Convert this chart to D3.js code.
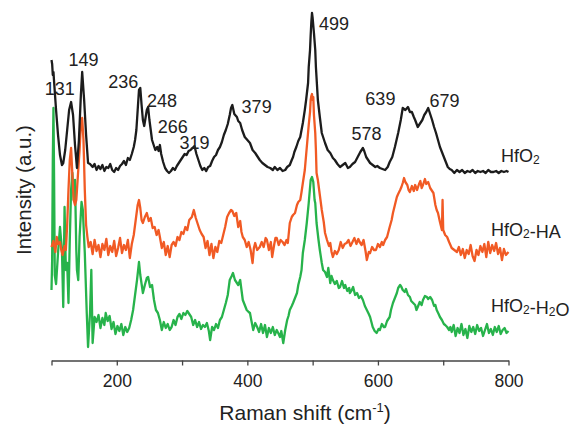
<!DOCTYPE html>
<html>
<head>
<meta charset="utf-8">
<script src="https://cdn.jsdelivr.net/npm/d3@7"></script>
<style>
body { margin: 0; background: #fff; }
text { font-family: Arial, "Liberation Sans", Helvetica, sans-serif; fill: #222; }
</style>
</head>
<body>
<div id="chart"></div>
<script>
// Raman shift (cm-1), intensity (a.u., offset per trace)
var hfo2 = [[100,30.0],[101,29.6],[102,28.5],[103,28.8],[104,27.8],[107,25.0],[110,22.5],[113,20.5],[116,19.5],[118,19.7],[121,21.0],[124,23.0],[127,25.0],[130,25.8],[133,24.5],[136,21.5],[139,19.2],[142,22.0],[145,26.5],[147,28.8],[150,26.0],[153,22.5],[156,19.7],[159,19.6],[163,19.3],[166,19.6],[169,19.0],[172,19.4],[175,19.1],[178,19.5],[181,18.9],[184,19.3],[187,19.2],[190,19.6],[193,19.0],[196,18.8],[199,19.2],[202,19.0],[205,19.4],[208,19.6],[211,19.9],[214,19.5],[217,20.2],[220,20.0],[223,20.6],[226,21.3],[228,22.0],[230,23.0],[232,25.0],[234,27.0],[236,27.2],[238,25.5],[240,24.0],[242,23.4],[244,24.2],[246,25.0],[248,25.3],[250,24.0],[252,23.0],[254,22.0],[256,21.6],[259,21.0],[262,21.3],[264,20.9],[266,21.5],[268,20.6],[271,19.8],[274,19.2],[277,18.9],[280,18.7],[283,18.9],[286,19.2],[289,19.0],[292,19.4],[295,19.7],[298,20.0],[301,20.3],[304,20.6],[307,20.5],[310,20.9],[313,21.0],[316,21.2],[319,21.4],[322,20.6],[325,20.0],[328,19.4],[331,19.0],[334,19.2],[337,18.9],[340,19.3],[343,19.4],[346,19.9],[349,20.3],[352,20.5],[355,21.0],[358,21.3],[361,21.8],[364,22.5],[367,23.0],[370,23.6],[373,24.5],[375,25.2],[377,25.5],[380,24.6],[384,24.3],[386,23.9],[389,23.7],[392,23.0],[396,22.3],[400,22.0],[404,21.7],[408,21.0],[412,20.7],[416,20.3],[419,20.0],[423,19.7],[427,19.5],[431,19.3],[435,19.2],[439,19.0],[442,19.3],[446,19.0],[450,19.2],[454,18.9],[458,19.0],[461,19.3],[465,19.5],[468,20.0],[470,20.3],[472,20.8],[475,21.3],[478,21.9],[481,22.3],[483,23.0],[485,23.7],[488,25.0],[490,26.0],[493,27.7],[494,29.3],[496,31.0],[497,32.5],[498,33.8],[499,34.7],[500,34.2],[502,32.7],[504,31.0],[505,29.3],[508,26.0],[511,24.3],[514,22.7],[519,21.7],[523,21.0],[527,20.7],[531,20.2],[534,20.0],[538,19.6],[542,19.3],[546,19.5],[550,19.7],[554,19.2],[557,19.3],[561,19.6],[565,19.8],[569,20.3],[573,20.8],[577,21.2],[579,20.9],[582,20.3],[585,20.0],[588,19.7],[592,19.5],[596,19.3],[599,19.4],[603,19.2],[607,19.1],[611,19.0],[615,19.3],[618,19.8],[622,20.3],[626,21.3],[631,22.7],[635,24.0],[638,25.2],[642,25.0],[646,25.3],[649,24.8],[652,24.8],[655,24.3],[657,24.0],[661,23.3],[664,23.6],[668,24.0],[671,24.5],[674,24.8],[677,25.2],[680,24.6],[683,24.0],[686,23.3],[689,22.7],[692,22.0],[695,21.3],[698,20.8],[701,20.3],[704,19.8],[707,19.3],[710,19.1],[713,19.0],[717,18.7],[721,19.0],[725,18.8],[729,19.0],[733,18.7],[737,18.9],[741,18.8],[745,19.0],[749,18.7],[753,18.9],[757,18.8],[761,18.9],[765,18.7],[769,19.0],[773,18.8],[777,18.8],[781,18.9],[785,18.7],[789,18.9],[793,18.8],[797,18.9],[800,18.8]];

var hfo2HA = [[100,11.3],[103,11.9],[106,10.8],[108,12.3],[110,11.6],[113,11.8],[115,11.0],[117,10.5],[120,11.4],[122,11.0],[124,13.5],[126,17.0],[128,20.0],[130,21.2],[132,18.5],[134,16.0],[136,15.5],[138,16.0],[140,18.0],[143,21.0],[145,23.5],[147,24.2],[149,22.0],[151,17.0],[153,13.5],[155,12.3],[157,11.3],[160,11.8],[163,10.6],[166,12.0],[169,10.9],[172,11.5],[175,10.3],[178,11.6],[181,11.0],[184,12.1],[187,10.5],[190,11.4],[193,10.8],[196,11.9],[199,10.4],[202,11.2],[205,12.2],[208,10.7],[211,11.5],[214,11.0],[217,12.0],[220,10.2],[223,11.6],[226,12.5],[229,14.0],[232,15.5],[234,16.0],[236,15.2],[238,14.0],[240,13.7],[243,14.3],[246,14.7],[249,13.9],[252,14.2],[255,13.2],[258,13.3],[261,12.5],[264,13.0],[266,12.3],[269,11.2],[272,11.8],[275,10.5],[278,11.4],[281,10.3],[284,11.5],[287,11.8],[290,11.4],[293,12.3],[296,12.0],[299,12.8],[302,12.6],[305,13.3],[308,13.0],[311,14.0],[315,14.3],[318,15.0],[321,14.2],[324,13.6],[327,13.0],[330,12.6],[333,12.3],[336,11.2],[339,11.9],[342,10.5],[345,11.6],[348,10.2],[351,11.3],[354,10.8],[357,11.9],[360,11.7],[363,12.5],[366,13.3],[369,14.3],[372,14.7],[375,15.0],[377,14.9],[380,14.4],[383,14.7],[386,13.3],[389,13.9],[391,12.8],[393,12.3],[396,12.0],[399,11.3],[402,11.8],[405,11.0],[408,9.7],[410,11.2],[412,11.7],[415,11.0],[419,11.3],[422,11.8],[425,11.3],[428,12.2],[430,12.0],[433,11.0],[436,11.8],[438,10.3],[441,11.5],[443,12.2],[445,12.2],[448,11.5],[451,12.0],[454,11.8],[457,11.5],[460,12.0],[462,11.7],[465,13.7],[468,14.3],[470,14.5],[473,14.7],[476,15.5],[478,15.8],[481,16.0],[483,16.8],[485,17.7],[488,19.0],[490,20.5],[492,22.0],[494,23.5],[496,24.8],[497,26.0],[498,26.4],[499,26.6],[500,26.0],[501,26.3],[502,24.5],[504,22.7],[505,21.0],[506,18.7],[508,18.0],[511,16.5],[514,15.0],[517,13.8],[519,12.7],[522,12.0],[525,11.4],[527,11.7],[529,10.8],[531,10.3],[534,10.9],[537,10.6],[540,11.0],[543,11.8],[546,11.2],[549,11.6],[552,11.7],[555,12.0],[558,11.4],[561,11.8],[564,12.2],[567,11.6],[570,12.1],[572,11.8],[575,11.5],[578,12.0],[581,10.9],[583,10.0],[586,10.8],[588,10.7],[591,11.3],[594,11.0],[597,11.0],[600,11.6],[603,11.3],[606,11.8],[608,11.5],[611,12.0],[614,12.3],[616,12.8],[618,13.3],[621,14.0],[623,14.7],[626,15.5],[629,16.3],[631,16.6],[634,17.0],[636,17.3],[638,17.7],[640,18.2],[642,17.8],[645,17.5],[647,17.0],[649,16.8],[652,17.4],[655,16.9],[657,17.5],[660,17.0],[663,17.6],[665,17.9],[667,17.2],[669,17.5],[672,18.1],[674,17.6],[677,17.8],[680,17.2],[683,16.9],[685,16.7],[688,15.5],[690,15.0],[692,14.7],[695,13.8],[698,13.0],[699,16.0],[700,13.0],[703,12.5],[706,12.3],[709,11.8],[713,11.2],[717,11.0],[721,10.8],[724,11.3],[727,10.5],[730,11.1],[733,10.2],[736,11.0],[739,10.6],[742,11.5],[745,10.4],[748,9.9],[751,11.0],[754,10.5],[757,11.4],[760,10.8],[763,11.6],[766,10.3],[769,11.8],[772,10.7],[775,11.5],[778,10.9],[781,11.7],[784,10.6],[787,11.2],[790,10.0],[793,11.1],[796,10.5],[800,10.8]];

var hfo2H2O = [[100,7.0],[101,10.0],[102,20.0],[103,25.2],[104,18.0],[105,8.5],[107,7.6],[110,10.7],[113,13.3],[116,11.0],[118,5.3],[120,15.3],[122,9.0],[124,9.7],[126,5.7],[128,12.0],[130,17.0],[132,18.7],[134,16.0],[136,18.0],[138,11.0],[139,9.0],[141,8.0],[143,12.3],[146,15.8],[148,15.0],[151,10.7],[154,4.7],[156,1.3],[159,4.7],[161,9.0],[163,1.7],[166,4.3],[169,3.8],[172,4.5],[175,3.2],[178,4.2],[181,3.5],[183,4.7],[186,3.9],[189,4.4],[192,3.1],[195,3.8],[198,2.6],[201,3.4],[204,2.9],[207,3.6],[210,2.5],[213,3.3],[216,2.8],[219,3.2],[222,4.0],[225,5.0],[228,6.5],[231,8.0],[234,9.8],[236,8.5],[240,6.7],[243,7.5],[246,8.2],[248,8.3],[251,7.3],[254,7.5],[257,6.0],[260,5.0],[263,4.7],[266,4.0],[269,3.0],[272,3.8],[275,3.2],[278,3.6],[281,3.0],[284,3.3],[287,4.0],[290,3.5],[293,4.3],[296,4.6],[299,4.1],[302,4.7],[305,4.5],[308,4.9],[311,4.6],[314,4.3],[317,3.5],[320,4.0],[323,3.3],[326,3.8],[329,3.1],[332,3.5],[335,3.3],[338,3.7],[341,2.9],[343,2.0],[346,3.3],[349,3.0],[352,3.6],[355,3.2],[358,4.0],[361,4.3],[364,5.0],[367,5.7],[370,6.5],[373,8.0],[376,8.4],[378,8.7],[381,8.0],[384,7.7],[386,7.5],[389,8.0],[391,7.0],[393,6.0],[396,5.5],[399,5.0],[402,4.8],[404,4.7],[406,4.0],[409,3.0],[412,3.7],[415,3.3],[418,2.8],[421,3.6],[424,2.7],[427,3.5],[430,2.3],[433,3.2],[436,2.7],[439,3.3],[442,2.5],[445,3.0],[448,2.6],[450,2.3],[452,2.9],[455,1.7],[458,3.0],[461,4.0],[463,4.4],[465,5.0],[468,5.4],[470,5.7],[473,6.2],[476,6.7],[478,7.5],[481,8.3],[483,9.0],[485,10.7],[488,12.0],[491,13.7],[494,15.7],[497,18.0],[499,18.3],[501,17.8],[503,16.0],[504,15.7],[506,13.7],[509,12.0],[511,11.0],[514,9.7],[516,9.0],[519,8.8],[522,8.3],[524,9.2],[527,7.7],[529,8.4],[531,8.0],[534,7.6],[537,7.9],[540,7.2],[542,7.3],[545,7.9],[548,7.2],[550,7.5],[553,6.9],[556,7.2],[557,6.7],[560,7.0],[562,7.3],[565,6.5],[568,6.7],[571,6.2],[574,6.4],[577,6.0],[580,5.4],[583,5.0],[586,4.6],[588,4.3],[590,3.8],[592,3.3],[595,2.9],[598,2.7],[601,3.1],[603,3.0],[606,3.6],[609,3.3],[611,3.3],[614,3.9],[618,4.3],[620,5.0],[623,5.7],[626,6.2],[629,6.7],[631,7.2],[634,7.5],[636,7.3],[638,7.0],[641,6.8],[643,7.1],[646,6.5],[649,6.3],[651,5.9],[654,5.7],[657,5.5],[659,5.0],[661,5.3],[664,5.8],[667,5.5],[669,6.0],[672,6.4],[675,6.3],[677,6.1],[680,6.3],[683,6.0],[686,5.4],[688,5.5],[690,5.0],[693,4.6],[695,4.3],[698,4.0],[701,3.6],[703,3.5],[706,3.3],[709,3.0],[711,3.3],[713,2.8],[716,3.5],[719,2.4],[722,3.2],[725,2.7],[728,3.6],[731,2.5],[734,3.1],[737,2.2],[740,3.4],[743,2.8],[746,3.3],[749,2.6],[752,3.5],[755,2.9],[758,3.2],[761,2.4],[764,3.0],[767,3.6],[770,2.7],[773,3.1],[776,2.5],[779,3.3],[782,2.8],[785,3.4],[788,2.6],[791,3.0],[794,3.2],[797,2.7],[800,2.9]];

var seriesNames = ["HfO2", "HfO2-HA", "HfO2-H2O"];
var seriesColors = ["#1c1c1c", "#f15a24", "#27b34b"];
var xTicks = [100, 200, 300, 400, 500, 600, 700, 800];
var xTickLabels = [200, 400, 600, 800];
var peaks = [131, 149, 236, 248, 266, 319, 379, 499, 578, 639, 679];

// label placement (px)
var peakDx = [-12, 0, -17, 14, 13, 0, 23, 22, 3, -23, 15];
var peakBase = [95, 66, 88, 107, 133, 149, 113, 30, 140, 105, 107];
var nameX = [501, 491, 491];
var nameBase = [162, 236, 312];

var width = 571, height = 431;

var svg = d3.select("#chart")
  .append("svg")
    .attr("width", width)
    .attr("height", height);

var x = d3.scaleLinear()
  .domain([100, 800])
  .range([51.5, 508.5]);

var y = d3.scaleLinear()
  .domain([0, 35])
  .range([360, 10]);

var xAxis = svg.append("g")
  .attr("transform", "translate(0,360.5)")
  .call(d3.axisBottom(x)
    .tickValues(xTicks)
    .tickSize(5)
    .tickSizeOuter(0)
    .tickPadding(9.5)
    .tickFormat(function(d) { return xTickLabels.indexOf(d) >= 0 ? d : ""; }));
xAxis.select(".domain").attr("stroke", "#444").attr("stroke-width", 1.3);
xAxis.selectAll(".tick line").attr("stroke", "#444").attr("stroke-width", 1.3);
xAxis.selectAll(".tick text")
  .attr("fill", "#222")
  .style("font-size", "17.5px")
  .style("font-family", "Arial, 'Liberation Sans', sans-serif");

var line = d3.line()
  .x(function(d) { return x(d[0]); })
  .y(function(d) { return y(d[1]); });

var allSeries = [hfo2H2O, hfo2HA, hfo2];
var allColors = [seriesColors[2], seriesColors[1], seriesColors[0]];

svg.append("g")
  .selectAll("path")
  .data(allSeries)
  .enter()
  .append("path")
    .attr("d", line)
    .attr("fill", "none")
    .attr("stroke", function(d, i) { return allColors[i]; })
    .attr("stroke-width", 2.3)
    .attr("stroke-linejoin", "round");

// peak positions
svg.append("g")
  .selectAll("text")
  .data(peaks)
  .enter()
  .append("text")
    .attr("x", function(d, i) { return x(d) + peakDx[i]; })
    .attr("y", function(d, i) { return peakBase[i]; })
    .attr("text-anchor", "middle")
    .style("font-size", "18px")
    .text(function(d) { return d; });

// trace names with subscript digits
seriesNames.forEach(function(name, i) {
  var t = svg.append("text")
    .attr("x", nameX[i])
    .attr("y", nameBase[i])
    .style("font-size", "18px");
  name.split(/(\d)/).forEach(function(part) {
    if (part === "") return;
    if (/\d/.test(part)) {
      t.append("tspan").attr("dy", 2).style("font-size", "12px").text(part);
      t.append("tspan").attr("dy", -2).text("");
    } else {
      t.append("tspan").text(part);
    }
  });
});

var title = svg.append("text")
  .attr("x", 305)
  .attr("y", 420)
  .attr("text-anchor", "middle")
  .style("font-size", "21px");
title.append("tspan").text("Raman shift (cm");
title.append("tspan").attr("dy", -8).style("font-size", "13px").text("-1");
title.append("tspan").attr("dy", 8).text(")");

svg.append("text")
  .attr("transform", "translate(31,190) rotate(-90)")
  .attr("text-anchor", "middle")
  .style("font-size", "20.5px")
  .text("Intensity (a.u.)");
</script>
</body>
</html>
